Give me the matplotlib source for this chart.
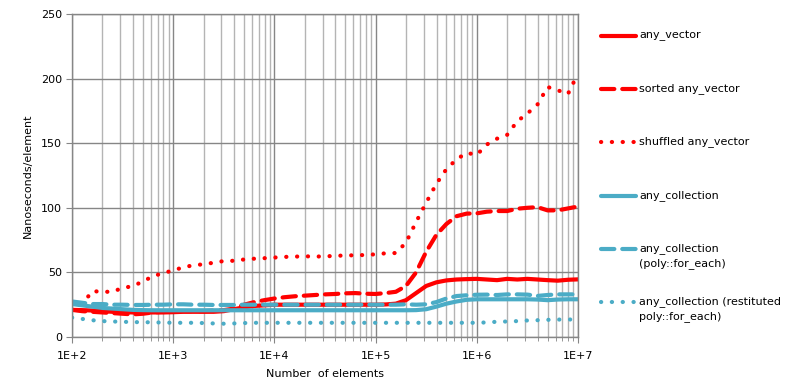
import matplotlib
matplotlib.use("Agg")
import matplotlib.pyplot as plt
from matplotlib.lines import Line2D
from matplotlib.ticker import LogLocator, FixedLocator, FixedFormatter, NullFormatter

plt.rcParams['font.family'] = ['DejaVu Sans']

# ---- data -------------------------------------------------------------
n_elements = [100, 126, 158, 200, 251, 316, 398, 501, 631, 794,
              1000, 1259, 1585, 1995, 2512, 3162, 3981, 5012, 6310, 7943,
              10000, 12589, 15849, 19953, 25119, 31623, 39811, 50119, 63096, 79433,
              100000, 125893, 158489, 199526, 251189, 316228, 398107, 501187, 630957, 794328,
              1000000, 1258925, 1584893, 1995262, 2511886, 3162278, 3981072, 5011872, 6309573, 7943282,
              10000000]

any_vector = [21, 20.8, 20.5, 20, 19.5, 19.3, 19, 19, 19, 19,
              19.2, 19.5, 19.5, 19.5, 19.5, 20, 21.5, 23, 24, 24.5,
              25, 25, 25, 25, 25, 25, 25, 25, 25, 25,
              25, 25.2, 25.8, 28.5, 34, 39.5, 42.3, 43.8, 44.5, 44.8,
              45, 44.5, 44, 45, 44.5, 45, 44.5, 44, 43.6, 44.3,
              44.6]

sorted_any_vector = [21, 20, 19.5, 19, 18.5, 18, 17.5, 18, 19, 19.5,
                     20, 20, 20, 20, 20.5, 20.8, 22, 25, 27, 28.5,
                     29.8, 30.8, 31.5, 32, 32.5, 33, 33.3, 33.8, 34, 33.5,
                     33.3, 34, 35, 39.5, 50, 66, 79, 87.5, 93.5, 95.5,
                     95.7, 97, 97.5, 97.5, 99.3, 100, 100.5, 98, 98, 99.5,
                     101]

shuffled_any_vector = [21, 25, 35.5, 35, 35, 38, 39.3, 43, 47, 49.5,
                       51.5, 54, 55.5, 56.3, 57.5, 58.8, 59, 60, 60.6, 61,
                       61.5, 62, 62.2, 62.5, 62.2, 62.5, 62.7, 63.2, 63.2, 63.5,
                       64, 64.8, 65, 73, 89, 104, 118.5, 130, 137.5, 142.5,
                       141, 149, 153.5, 156.5, 167, 173, 180, 193.5, 191, 188,
                       204]

any_collection = [25.5, 24.5, 23.5, 22.5, 22, 21.5, 21, 20.8, 20.7, 20.7,
                  20.7, 20.7, 20.7, 20.7, 20.7, 20.7, 20.7, 20.7, 20.7, 20.7,
                  20.7, 20.7, 20.7, 20.7, 20.7, 20.7, 20.7, 20.7, 20.7, 20.7,
                  20.7, 20.7, 20.7, 20.7, 20.8, 21.5, 23.5, 25.8, 27.5, 28.8,
                  29.2, 29.2, 29.2, 29.2, 29.2, 29.2, 29, 28.5, 29, 29.2,
                  29.2]

any_collection_poly = [27.5, 26.5, 25.5, 25.5, 25, 25, 24.8, 24.8, 25, 25,
                       25.3, 25.3, 25, 25, 24.8, 24.8, 24.8, 25, 25, 25,
                       25, 25, 25, 25, 25, 25, 25, 25, 25, 25,
                       25, 25, 25, 25.3, 25, 25.3, 27, 29.8, 31.7, 32.3,
                       32.7, 32.8, 32.5, 33, 33, 32.8, 31.8, 32.5, 33, 33,
                       33]

any_collection_restituted = [15, 14, 13, 12.3, 12, 11.8, 11.5, 11.5, 11.3, 11.2,
                             11, 11, 11, 10.8, 10.5, 10.3, 10.5, 10.8, 11, 11,
                             11, 11, 11, 11, 11, 11, 11, 11, 11, 11,
                             11, 11, 11, 11, 11, 11, 11, 11, 11, 11,
                             11, 11.3, 11.8, 12, 12.3, 12.8, 13, 13.3, 13.5, 13.5,
                             13.7]

labels = ["any_vector", "sorted any_vector", "shuffled any_vector",
          "any_collection", "any_collection\n(poly::for_each)",
          "any_collection (restituted\npoly::for_each)"]

y_ticks = [0, 50, 100, 150, 200, 250]
x_ticks = [1e2, 1e3, 1e4, 1e5, 1e6, 1e7]
x_tick_labels = ["1E+2", "1E+3", "1E+4", "1E+5", "1E+6", "1E+7"]

# ---- styling ----------------------------------------------------------
RED = "#FF0000"
BLUE = "#4BACC6"
LW = 3.0
DASH = (0, (3.2, 1.9))
DOT = (0, (0.05, 2.55))

series = [
    (any_vector, RED, "-"),
    (sorted_any_vector, RED, DASH),
    (shuffled_any_vector, RED, DOT),
    (any_collection, BLUE, "-"),
    (any_collection_poly, BLUE, DASH),
    (any_collection_restituted, BLUE, DOT),
]

fig = plt.figure(figsize=(7.95, 3.90), dpi=100)
ax = fig.add_axes([72 / 795, 1 - 337 / 390, (578 - 72) / 795, (337 - 14) / 390])

for vals, col, ls in series:
    ax.plot(n_elements, vals, color=col, linestyle=ls, linewidth=LW,
            solid_capstyle="round", dash_capstyle="round", solid_joinstyle="round")

ax.set_xscale("log")
ax.set_xlim(1e2, 1e7)
ax.set_ylim(0, 250)

ax.xaxis.set_major_locator(FixedLocator(x_ticks))
ax.xaxis.set_major_formatter(FixedFormatter(x_tick_labels))
ax.xaxis.set_minor_locator(LogLocator(base=10, subs=range(2, 10)))
ax.xaxis.set_minor_formatter(NullFormatter())
ax.yaxis.set_major_locator(FixedLocator(y_ticks))

ax.grid(True, which="major", axis="both", color="#868686", linewidth=1.0)
ax.grid(True, which="minor", axis="x", color="#b4b4b4", linewidth=1.0)
ax.set_axisbelow(True)

for side in ["top", "right", "left", "bottom"]:
    ax.spines[side].set_color("#868686")
    ax.spines[side].set_linewidth(1.0)

ax.tick_params(axis="both", which="major", direction="out", length=4,
               color="#868686", labelsize=8, labelcolor="black", pad=3)
ax.tick_params(axis="x", which="minor", direction="out", length=3, color="#868686")
ax.tick_params(axis="x", which="major", pad=6)

ax.set_xlabel("Number  of elements", fontsize=8, labelpad=6)
ax.set_ylabel("Nanoseconds/element", fontsize=8, labelpad=6)

# ---- legend (drawn manually to mirror the layout) ---------------------
legend_rows = [36, 89, 142, 196, 249, 302]   # pixel rows of handles
x0, x1, xt = 601 / 795, 636 / 795, 639 / 795
for (vals, col, ls), lab, yp in zip(series, labels, legend_rows):
    yf = 1 - yp / 390
    fig.add_artist(Line2D([x0, x1], [yf, yf], transform=fig.transFigure,
                          color=col, linestyle=ls, linewidth=LW,
                          solid_capstyle="round", dash_capstyle="round"))
    if "\n" in lab:
        fig.text(xt, yf + 6 / 390, lab, fontsize=8, va="top", ha="left",
                 linespacing=1.55)
    else:
        fig.text(xt, yf, lab, fontsize=8, va="center", ha="left")

fig.savefig("out.png", dpi=100)
